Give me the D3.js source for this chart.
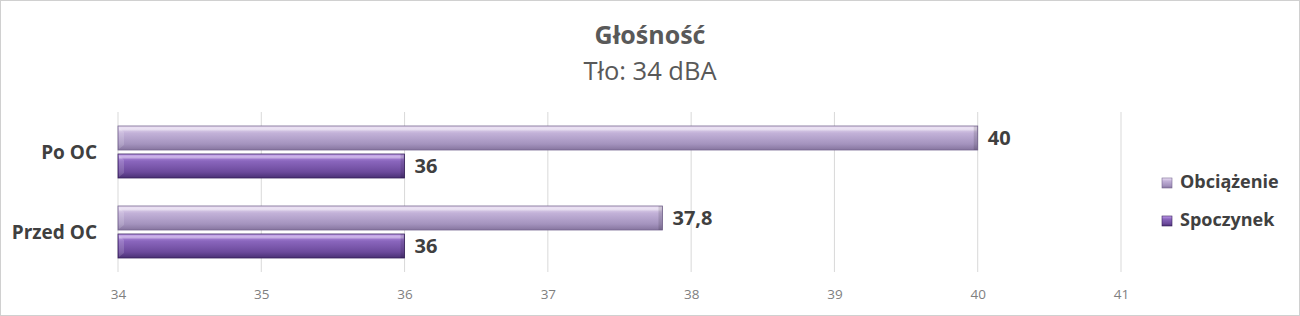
<!DOCTYPE html>
<html>
<head>
<meta charset="utf-8">
<script src="https://cdn.jsdelivr.net/npm/d3@7"></script>
<style>
  body { margin: 0; background: #fff; }
  svg text { font-family: "Open Sans", Lato, sans-serif; }
</style>
</head>
<body>
<svg id="chart"></svg>
<script>
const categories = ["Po OC", "Przed OC"];
const seriesNames = ["Obciążenie", "Spoczynek"];
const obciazenie = [40, 37.8];
const spoczynek = [36, 36];
const xTicks = [34, 35, 36, 37, 38, 39, 40, 41];

const width = 1300;
const height = 316;

const svg = d3.select("#chart").attr("width", width).attr("height", height);

// frame
svg.append("rect")
  .attr("x", 0.5).attr("y", 0.5)
  .attr("width", width - 1).attr("height", height - 1)
  .attr("fill", "#fff").attr("stroke", "#d0d0d0");

const defs = svg.append("defs");
const palettes = [
  ["#eee3f6", "#c2b1d8", "#a493be", "#86759f"], // Obciążenie
  ["#c39ded", "#8a66bd", "#6c4a9c", "#4a3074"]  // Spoczynek
];
palettes.forEach((p, i) => {
  const g = defs.append("linearGradient")
    .attr("id", "grad" + i).attr("x1", 0).attr("y1", 0).attr("x2", 0).attr("y2", 1);
  g.append("stop").attr("offset", "0%").attr("stop-color", p[0]);
  g.append("stop").attr("offset", "30%").attr("stop-color", p[1]);
  g.append("stop").attr("offset", "75%").attr("stop-color", p[2]);
  g.append("stop").attr("offset", "100%").attr("stop-color", p[3]);
});

const x = d3.scaleLinear().domain([34, 41]).range([118, 1121]);
const y = d3.scaleBand().domain(categories).range([112, 272]);
const sub = d3.scaleBand().domain(seriesNames).range([0, y.bandwidth()]).paddingInner(0.143).paddingOuter(0.5);

// title
svg.append("text")
  .attr("x", 650).attr("y", 44)
  .attr("text-anchor", "middle")
  .attr("font-size", 25).attr("font-weight", 700)
  .attr("fill", "#595959")
  .text("Głośność");
svg.append("text")
  .attr("x", 650).attr("y", 80)
  .attr("text-anchor", "middle")
  .attr("font-size", 25.5)
  .attr("fill", "#595959")
  .text("Tło: 34 dBA");

// grid
svg.append("g")
  .selectAll("line")
  .data(xTicks)
  .join("line")
  .attr("x1", d => x(d)).attr("x2", d => x(d))
  .attr("y1", 112).attr("y2", 272)
  .attr("stroke", "#d9d9d9").attr("stroke-width", 1);

// x axis labels
const xAxis = d3.axisBottom(x).tickValues(xTicks).tickSize(0).tickPadding(0).tickFormat(d3.format("d"));
svg.append("g")
  .attr("transform", "translate(0,299)")
  .call(xAxis)
  .call(g => g.select(".domain").remove())
  .call(g => g.selectAll("text")
    .attr("dy", 0)
    .attr("font-size", 13.5)
    .attr("fill", "#7f7f7f")
    .style("font-family", "'Open Sans', sans-serif"));

// y axis labels
const yAxis = d3.axisLeft(y).tickSize(0).tickPadding(0);
svg.append("g")
  .attr("transform", "translate(97,0)")
  .call(yAxis)
  .call(g => g.select(".domain").remove())
  .call(g => g.selectAll("text")
    .attr("font-size", 19).attr("font-weight", 700)
    .attr("fill", "#404040")
    .attr("dy", "0.35em")
    .style("font-family", "'Open Sans', sans-serif"));

const rows = [];
categories.forEach((c, i) => {
  rows.push({ cat: c, series: seriesNames[0], value: obciazenie[i], idx: 0 });
  rows.push({ cat: c, series: seriesNames[1], value: spoczynek[i], idx: 1 });
});

const bars = svg.append("g").selectAll("g").data(rows).join("g")
  .attr("transform", d => `translate(0,${y(d.cat) + sub(d.series)})`);

bars.append("rect")
  .attr("x", x(34))
  .attr("width", d => x(d.value) - x(34))
  .attr("height", sub.bandwidth())
  .attr("fill", d => `url(#grad${d.idx})`)
  .attr("stroke", d => d.idx === 0 ? "#756590" : "#36205a")
  .attr("stroke-width", 0.8);

// bevel highlight
bars.append("rect")
  .attr("x", x(34) + 1)
  .attr("y", 1.5)
  .attr("width", d => Math.max(0, x(d.value) - x(34) - 2))
  .attr("height", 3)
  .attr("fill", "#ffffff")
  .attr("opacity", 0.35);

// left bevel corner
bars.append("path")
  .attr("d", `M${x(34) + 1},1 L${x(34) + 6},6 L${x(34) + 6},${sub.bandwidth() - 5} L${x(34) + 1},${sub.bandwidth() - 1} Z`)
  .attr("fill", "#fff")
  .attr("opacity", 0.15);

// right bevel shade
bars.append("rect")
  .attr("x", d => x(d.value) - 4)
  .attr("y", 0)
  .attr("width", 4)
  .attr("height", sub.bandwidth())
  .attr("fill", "#000")
  .attr("opacity", 0.12);

bars.append("text")
  .attr("x", d => x(d.value) + 10)
  .attr("y", sub.bandwidth() / 2)
  .attr("dy", "0.35em")
  .attr("font-size", 20).attr("font-weight", 700)
  .attr("fill", "#404040")
  .text(d => String(d.value).replace(".", ","));

// legend
const legend = svg.append("g").selectAll("g").data(seriesNames).join("g")
  .attr("transform", (d, i) => `translate(1162,${182 + i * 38})`);
legend.append("rect")
  .attr("x", 0).attr("y", -4).attr("width", 10).attr("height", 10)
  .attr("fill", (d, i) => `url(#grad${i})`)
  .attr("stroke", (d, i) => i === 0 ? "#756590" : "#36205a").attr("stroke-width", 0.6);
legend.append("text")
  .attr("x", 18).attr("dy", "0.35em")
  .attr("font-size", 18).attr("font-weight", 700)
  .attr("fill", "#404040")
  .text(d => d);
</script>
</body>
</html>
